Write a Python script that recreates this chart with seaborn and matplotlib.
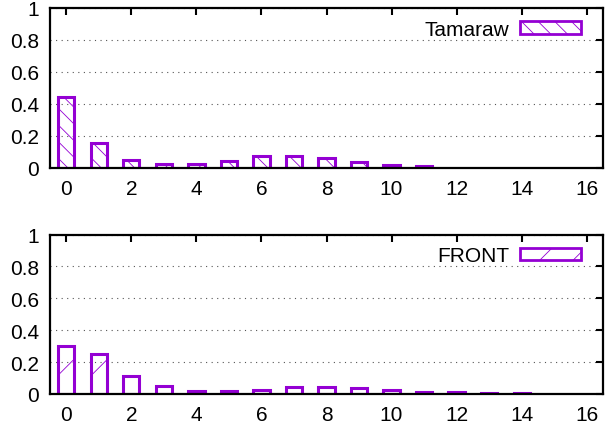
import numpy as np
import pandas as pd
import matplotlib
matplotlib.use("Agg")
import matplotlib.pyplot as plt
from matplotlib.patches import Patch
import seaborn as sns

# histogram values
x_top = list(range(0, 12))
tamaraw = [0.44, 0.155, 0.047, 0.02, 0.023, 0.041, 0.069, 0.075, 0.06, 0.035, 0.016, 0.008]

x_bottom = list(range(0, 15))
front = [0.30, 0.25, 0.11, 0.048, 0.02, 0.02, 0.027, 0.041, 0.045, 0.04, 0.027, 0.015, 0.012, 0.008, 0.005]

xticks = [0, 2, 4, 6, 8, 10, 12, 14, 16]
yticks = [0, 0.2, 0.4, 0.6, 0.8, 1]
ytick_labels = ["0", "0.2", "0.4", "0.6", "0.8", "1"]

purple = "#9400d3"

sns.set_style("white")
plt.rcParams["font.family"] = ["Liberation Sans", "DejaVu Sans"]
plt.rcParams["text.color"] = "black"
plt.rcParams["hatch.linewidth"] = 0.6

fig = plt.figure(figsize=(6.07, 4.27), dpi=100)
W, H = 607, 427
ax_top = fig.add_axes([50 / W, 1 - 168.5 / H, 553 / W, 159.5 / H])
ax_bot = fig.add_axes([50 / W, 1 - 395 / H, 553 / W, 159.5 / H])

panels = [
    (ax_top, x_top, tamaraw, "Tamaraw", "\\\\"),
    (ax_bot, x_bottom, front, "FRONT", "/"),
]

for ax, xs, ys, name, hatch in panels:
    df = pd.DataFrame({"x": xs, "y": ys})
    sns.barplot(data=df, x="x", y="y", native_scale=True, width=0.5,
                fill=False, color=purple, linewidth=2.2, ax=ax)
    for p in ax.patches:
        p.set_hatch(hatch)
        p.set_edgecolor(purple)

    ax.set_xlim(-0.5, 16.5)
    ax.set_ylim(0, 1)
    ax.set_xticks(xticks)
    ax.set_xticklabels([str(t) for t in xticks])
    ax.set_yticks(yticks)
    ax.set_yticklabels(ytick_labels)
    ax.set_xlabel("")
    ax.set_ylabel("")
    ax.tick_params(direction="in", length=5, width=1.5, top=True, right=True,
                   labelsize=15, pad=8, colors="black")
    ax.yaxis.grid(True, linestyle=(0, (1, 4)), color="#555555", linewidth=0.8)
    ax.xaxis.grid(False)
    ax.set_axisbelow(True)
    for s in ax.spines.values():
        s.set_visible(True)
        s.set_linewidth(1.6)
        s.set_color("black")

    handle = Patch(facecolor="none", edgecolor=purple, hatch=hatch, linewidth=2)
    ax.legend([handle], [name], loc="upper right", bbox_to_anchor=(0.96, 0.925),
              frameon=False, markerfirst=False, handlelength=2.9, handleheight=0.55,
              handletextpad=0.55, borderpad=0, borderaxespad=0, fontsize=15)

fig.savefig("out.png", dpi=100)
